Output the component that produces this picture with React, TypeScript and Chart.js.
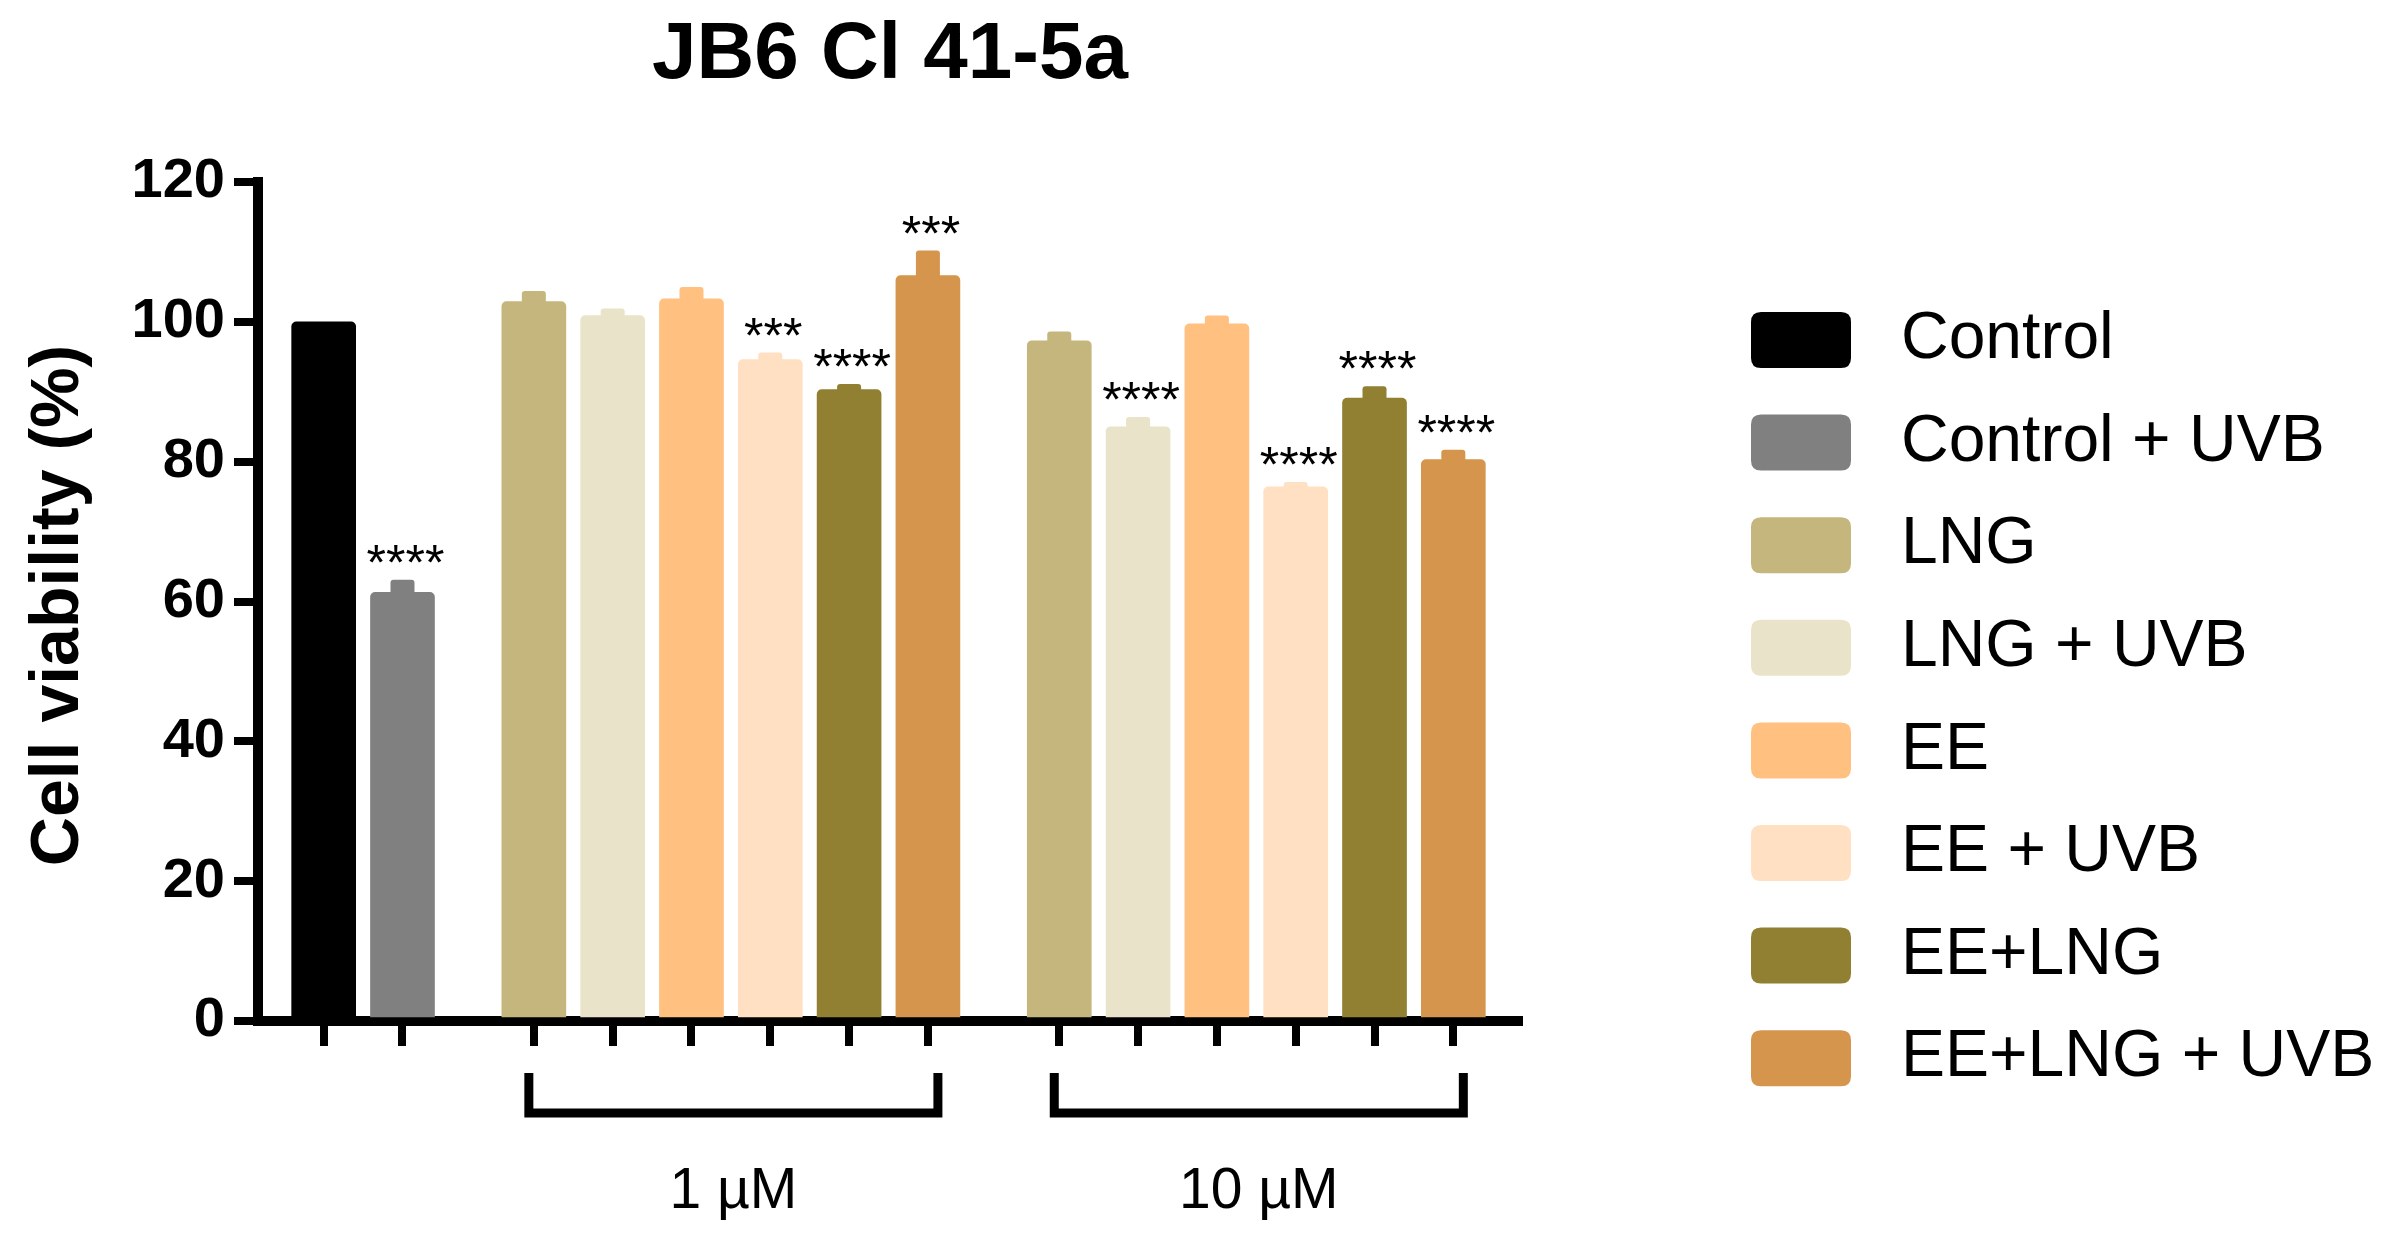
import React, { useEffect, useRef } from 'react';
import { Chart, registerables } from 'chart.js';

Chart.register(...registerables);

// ---------------- data ----------------
const chartTitle = 'JB6 Cl 41-5a';
const yAxisTitle = 'Cell viability (%)';
const yTicks = [0, 20, 40, 60, 80, 100, 120];

const treatments = ['Control', 'Control + UVB', 'LNG', 'LNG + UVB', 'EE', 'EE + UVB', 'EE+LNG', 'EE+LNG + UVB'];
const treatmentColors = ['#000000', '#808080', '#C4B67C', '#E9E3C9', '#FFC080', '#FFE0C2', '#917F32', '#D5954C'];

const groupLabels = ['', '1 µM', '10 µM'];
const groupTreatments = [[0, 1], [2, 3, 4, 5, 6, 7], [2, 3, 4, 5, 6, 7]];

const controlMeans = [100, 61.3];
const controlErrors = [0, 1.8];
const controlSignif = ['', '****'];

const means1uM = [102.9, 100.9, 103.3, 94.6, 90.3, 106.6];
const errors1uM = [1.5, 1.0, 1.7, 1.0, 0.8, 3.6];
const signif1uM = ['', '', '', '***', '****', '***'];

const means10uM = [97.3, 85.0, 99.7, 76.4, 89.1, 80.3];
const errors10uM = [1.3, 1.4, 1.2, 0.7, 1.7, 1.4];
const signif10uM = ['', '****', '', '****', '****', '****'];

// ---------------- layout of category slots ----------------
const LEAD = 2;
const STEP = 3;
const GAP = 5;
const TRAIL = 2;

type BarInfo = { slot: number; mean: number; err: number; sig: string; color: string; group: number };

const groupMeans = [controlMeans, means1uM, means10uM];
const groupErrors = [controlErrors, errors1uM, errors10uM];
const groupSignif = [controlSignif, signif1uM, signif10uM];

const bars: BarInfo[] = [];
let slotCursor = LEAD;
groupMeans.forEach((gm, gi) => {
  if (gi > 0) slotCursor += GAP;
  gm.forEach((m, i) => {
    if (i > 0) slotCursor += STEP;
    bars.push({
      slot: slotCursor,
      mean: m,
      err: groupErrors[gi][i],
      sig: groupSignif[gi][i],
      color: treatmentColors[groupTreatments[gi][i]],
      group: gi,
    });
  });
});
const nSlots = slotCursor + 1 + TRAIL;
const slotLabels: string[] = Array.from({ length: nSlots }, () => '');
const slotData: (number | null)[] = Array.from({ length: nSlots }, () => null);
const slotColors: string[] = Array.from({ length: nSlots }, () => 'rgba(0,0,0,0)');
const barSlots = new Set<number>();
bars.forEach((b) => {
  slotData[b.slot] = b.mean;
  slotColors[b.slot] = b.color;
  barSlots.add(b.slot);
});

const SANS = '"Liberation Sans", Arial, Helvetica, sans-serif';

function roundRectPath(ctx: CanvasRenderingContext2D, x: number, y: number, w: number, h: number, r: number) {
  const rr = Math.min(r, w / 2, h / 2);
  ctx.beginPath();
  ctx.moveTo(x + rr, y);
  ctx.lineTo(x + w - rr, y);
  ctx.quadraticCurveTo(x + w, y, x + w, y + rr);
  ctx.lineTo(x + w, y + h - rr);
  ctx.quadraticCurveTo(x + w, y + h, x + w - rr, y + h);
  ctx.lineTo(x + rr, y + h);
  ctx.quadraticCurveTo(x, y + h, x, y + h - rr);
  ctx.lineTo(x, y + rr);
  ctx.quadraticCurveTo(x, y, x + rr, y);
  ctx.closePath();
}

const decorPlugin = {
  id: 'decor',
  beforeDatasetsDraw(chart: any) {
    const ctx: CanvasRenderingContext2D = chart.ctx;
    const xs = chart.scales.x;
    const ys = chart.scales.y;
    // error bars (upper only, same colour as bar)
    bars.forEach((b) => {
      if (b.err <= 0) return;
      const x = xs.getPixelForValue(b.slot);
      const yTop = ys.getPixelForValue(b.mean + b.err);
      const yBase = ys.getPixelForValue(b.mean) + 6;
      ctx.save();
      ctx.fillStyle = b.color;
      roundRectPath(ctx, x - 12, yTop, 24, yBase - yTop, 3);
      ctx.fill();
      ctx.restore();
    });
  },
  afterDatasetsDraw(chart: any) {
    const ctx: CanvasRenderingContext2D = chart.ctx;
    const xs = chart.scales.x;
    const ys = chart.scales.y;
    const area = chart.chartArea;

    // significance stars
    ctx.save();
    ctx.fillStyle = '#000';
    ctx.font = `50px ${SANS}`;
    ctx.textAlign = 'center';
    ctx.textBaseline = 'alphabetic';
    bars.forEach((b) => {
      if (!b.sig) return;
      const x = xs.getPixelForValue(b.slot);
      const yTop = ys.getPixelForValue(b.mean + b.err);
      ctx.fillText(b.sig, x + 3, yTop);
    });
    ctx.restore();

    // group brackets + labels
    groupLabels.forEach((label, gi) => {
      if (!label) return;
      const gb = bars.filter((b) => b.group === gi);
      const x1 = xs.getPixelForValue(gb[0].slot) - 5;
      const x2 = xs.getPixelForValue(gb[gb.length - 1].slot) + 10;
      const top = area.bottom + 52;
      const bot = area.bottom + 92;
      ctx.save();
      ctx.strokeStyle = '#000';
      ctx.lineWidth = 9;
      ctx.lineJoin = 'miter';
      ctx.beginPath();
      ctx.moveTo(x1, top);
      ctx.lineTo(x1, bot);
      ctx.lineTo(x2, bot);
      ctx.lineTo(x2, top);
      ctx.stroke();
      ctx.fillStyle = '#000';
      ctx.font = `57px ${SANS}`;
      ctx.textAlign = 'center';
      ctx.textBaseline = 'middle';
      ctx.fillText(label, (x1 + x2) / 2, area.bottom + 171);
      ctx.restore();
    });

    // title
    ctx.save();
    ctx.fillStyle = '#000';
    ctx.font = `bold 80px ${SANS}`;
    ctx.textAlign = 'center';
    ctx.textBaseline = 'middle';
    ctx.fillText(chartTitle, 890, 56);
    ctx.restore();

    // y axis title
    ctx.save();
    ctx.translate(59, (area.top + area.bottom) / 2 + 4);
    ctx.rotate(-Math.PI / 2);
    ctx.fillStyle = '#000';
    ctx.font = `bold 68px ${SANS}`;
    ctx.textAlign = 'center';
    ctx.textBaseline = 'middle';
    ctx.fillText(yAxisTitle, 0, 0);
    ctx.restore();

    // legend
    ctx.save();
    treatments.forEach((t, i) => {
      const cy = 340 + 102.6 * i;
      ctx.fillStyle = treatmentColors[i];
      roundRectPath(ctx, 1751, cy - 28, 100, 56, 10);
      ctx.fill();
      ctx.fillStyle = '#000';
      ctx.font = `66px ${SANS}`;
      ctx.textAlign = 'left';
      ctx.textBaseline = 'middle';
      ctx.fillText(t, 1901, cy);
    });
    ctx.restore();
  },
};

export default function App() {
  const ref = useRef<HTMLCanvasElement>(null);
  useEffect(() => {
    const canvas = ref.current;
    if (!canvas) return;
    const chart = new Chart(canvas, {
      type: 'bar',
      data: {
        labels: slotLabels,
        datasets: [
          {
            data: slotData,
            backgroundColor: slotColors,
            barThickness: 64,
            borderRadius: 5,
            borderSkipped: 'start',
          } as any,
        ],
      },
      options: {
        responsive: false,
        devicePixelRatio: 1,
        animation: false,
        layout: { padding: { top: 182, right: 881, bottom: 0, left: 0 } },
        plugins: {
          legend: { display: false },
          tooltip: { enabled: false },
          title: { display: false },
        },
        scales: {
          x: {
            type: 'category',
            offset: true,
            grid: {
              display: true,
              drawOnChartArea: false,
              drawTicks: true,
              tickLength: 25,
              lineWidth: 8,
              offset: false,
              color: (c: any) => (barSlots.has(c.index) ? '#000' : 'rgba(0,0,0,0)'),
            },
            border: { display: true, color: '#000', width: 10 },
            ticks: { display: false, autoSkip: false },
            afterFit: (s: any) => {
              s.height = 221;
            },
          },
          y: {
            min: 0,
            max: 120,
            afterBuildTicks: (s: any) => {
              s.ticks = yTicks.map((v) => ({ value: v }));
            },
            ticks: {
              color: '#000',
              padding: 9,
              font: { family: SANS, size: 56, weight: 'bold' },
            },
            grid: { drawOnChartArea: false, tickLength: 24, lineWidth: 8, color: '#000' },
            border: { display: true, color: '#000', width: 10 },
            title: { display: false },
            afterFit: (s: any) => {
              s.width = 258;
            },
          },
        },
      } as any,
      plugins: [decorPlugin],
    });
    return () => chart.destroy();
  }, []);
  return (
    <div style={{ position: 'fixed', left: 0, top: 0, width: 2400, height: 1242, background: '#fff' }}>
      <canvas ref={ref} width={2400} height={1242} style={{ display: 'block', width: 2400, height: 1242 }} />
    </div>
  );
}
